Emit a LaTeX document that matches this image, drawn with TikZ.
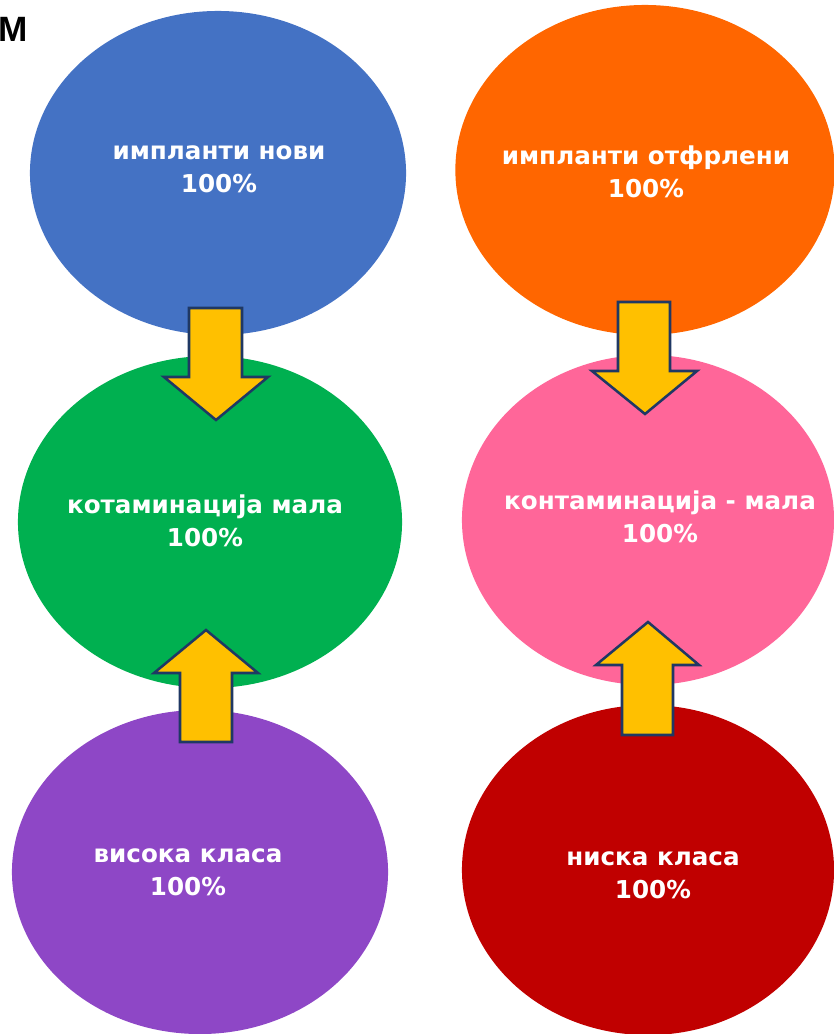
\documentclass[tikz,border=0pt]{standalone}
\usepackage{fontspec}
\setmainfont{DejaVu Sans}
\newfontfamily\titlefont{Liberation Sans}
\usetikzlibrary{shapes.geometric}
\definecolor{novi}{HTML}{4472C4}
\definecolor{otfrl}{HTML}{FF6600}
\definecolor{kontl}{HTML}{00B050}
\definecolor{kontr}{HTML}{FF6699}
\definecolor{visok}{HTML}{8E47C6}
\definecolor{nisok}{HTML}{C00000}
\definecolor{arrfill}{HTML}{FFC000}
\definecolor{arrline}{HTML}{1F3864}
\tikzset{
  oval/.style={ellipse, inner sep=0pt, draw=none},
  ovtext/.style={text=white, font=\bfseries\fontsize{17.5}{23.4}\selectfont, align=center, inner sep=0pt, anchor=base},
  blockarr/.style={fill=arrfill, draw=arrline, line width=1.8pt, line join=miter},
}

\begin{document}
\begin{tikzpicture}[x=0.025cm, y=-0.025cm]
  \useasboundingbox (0,0) rectangle (834,1034);
  \node[anchor=base west, inner sep=0pt, font=\titlefont\bfseries\fontsize{25}{25}\selectfont] (title) at (-2,41) {M};

  % ovals
  \node[oval, fill=novi, minimum width=9.4cm, minimum height=8.1cm] (novi) at (218,173) {};
  \node[oval, fill=otfrl, minimum width=9.48cm, minimum height=8.25cm] (otfrl) at (645,170) {};
  \node[oval, fill=kontl, minimum width=9.6cm, minimum height=8.3cm] (kontl) at (210,522) {};
  \node[oval, fill=kontr, minimum width=9.3cm, minimum height=8.25cm] (kontr) at (648,520) {};
  \node[oval, fill=visok, minimum width=9.4cm, minimum height=8.1cm] (visok) at (200,872) {};
  \node[oval, fill=nisok, minimum width=9.3cm, minimum height=8.25cm] (nisok) at (648,870) {};

  % labels (base = last line)
  \node[ovtext] (novitxt) at (219,192) {импланти нови\\100\%};
  \node[ovtext] (otfrltxt) at (646,197) {импланти отфрлени\\100\%};
  \node[ovtext] (kontltxt) at (205,546) {котаминација мала\\100\%};
  \node[ovtext] (kontrtxt) at (660,542) {контаминација - мала\\100\%};
  \node[ovtext] (visoktxt) at (188,895) {висока класа\\100\%};
  \node[ovtext] (nisoktxt) at (653,898) {ниска класа\\100\%};

  % block arrows
  \draw[blockarr] (189,308) -- (242,308) -- (242,377) -- (268,377) -- (216,420) -- (164,377) -- (189,377) -- cycle;
  \draw[blockarr] (618,302) -- (670,302) -- (670,371) -- (697,371) -- (645,414) -- (592,371) -- (618,371) -- cycle;
  \draw[blockarr] (180,742) -- (232,742) -- (232,673) -- (258,673) -- (206,630) -- (154,673) -- (180,673) -- cycle;
  \draw[blockarr] (622,735) -- (673,735) -- (673,665) -- (699,665) -- (648,622) -- (596,665) -- (622,665) -- cycle;
\end{tikzpicture}
\end{document}
